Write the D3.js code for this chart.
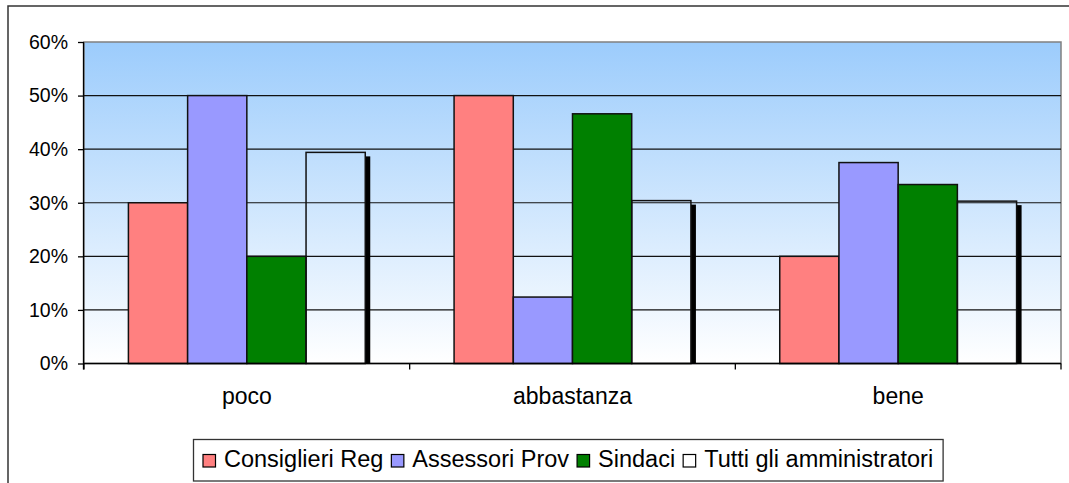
<!DOCTYPE html>
<html>
<head>
<meta charset="utf-8">
<script src="https://cdn.jsdelivr.net/npm/d3@7"></script>
<style>
  body { margin: 0; background: #fff; }
  svg text { font-family: "Liberation Sans", Arial, sans-serif; fill: #000; }
</style>
</head>
<body>
<div id="visualContainer"></div>
<script>
// chart data
var categories = ["poco", "abbastanza", "bene"];
var seriesNames = ["Consiglieri Reg", "Assessori Prov", "Sindaci", "Tutti gli amministratori"];
var consiglieriReg = [0.30, 0.50, 0.20];
var assessoriProv = [0.50, 0.124, 0.375];
var sindaci = [0.20, 0.466, 0.334];
var tutti = [0.394, 0.304, 0.303];
var yTicks = [0, 0.1, 0.2, 0.3, 0.4, 0.5, 0.6];

var seriesValues = [consiglieriReg, assessoriProv, sindaci, tutti];
var seriesColors = ["#ff8080", "#9999ff", "#008000", "none"];

var W = 1069, H = 483;
var plot = {left: 84, right: 1061, top: 42, bottom: 363.5};

var svgCanvas = d3.select("#visualContainer")
  .append("svg")
  .attr("width", W)
  .attr("height", H);

// gradient for plot area
var grad = svgCanvas.append("defs").append("linearGradient")
  .attr("id", "bg").attr("x1", 0).attr("y1", 0).attr("x2", 0).attr("y2", 1);
grad.append("stop").attr("offset", "0%").attr("stop-color", "#9cccfc");
grad.append("stop").attr("offset", "100%").attr("stop-color", "#ffffff");

// outer chart border
svgCanvas.append("rect")
  .attr("x", 8).attr("y", 6)
  .attr("width", 1090).attr("height", 500)
  .attr("fill", "none")
  .attr("stroke", "#333")
  .attr("stroke-width", 1.5);

var x0 = d3.scaleBand().domain(categories).range([plot.left, plot.right]);
var x1 = d3.scaleBand().domain(seriesNames).range([0, x0.bandwidth()])
  .paddingInner(0).paddingOuter(0.75);
var y = d3.scaleLinear().domain([0, 0.6]).range([plot.bottom, plot.top]);

// plot background
svgCanvas.append("rect")
  .attr("x", plot.left).attr("y", plot.top)
  .attr("width", plot.right - plot.left).attr("height", plot.bottom - plot.top)
  .attr("fill", "url(#bg)")
  .attr("stroke", "#808080")
  .attr("stroke-width", 1.5);

// gridlines
svgCanvas.append("g").selectAll("line")
  .data(yTicks.filter(function(t){ return t > 0 && t < 0.6; }))
  .enter().append("line")
    .attr("x1", plot.left).attr("x2", plot.right)
    .attr("y1", function(d){ return y(d); })
    .attr("y2", function(d){ return y(d); })
    .attr("stroke", "#111")
    .attr("stroke-width", 1.2);

// y axis
var yAxis = d3.axisLeft(y).tickValues(yTicks)
  .tickFormat(d3.format(".0%")).tickSize(6).tickPadding(10);
var gy = svgCanvas.append("g")
  .attr("transform", "translate(" + plot.left + ",0)")
  .call(yAxis);
gy.select(".domain").attr("stroke", "#000").attr("stroke-width", 1.3)
  .attr("d", "M-0.5," + plot.top + "V" + (plot.bottom + 6));
gy.selectAll(".tick line").attr("stroke", "#000").attr("stroke-width", 1.3);
gy.selectAll(".tick text").style("font-size", "19.5px")
  .style("font-family", "'Liberation Sans', Arial, sans-serif").attr("fill", "#000");

// bars
var bars = [];
seriesValues.forEach(function(vals, s) {
  vals.forEach(function(v, c) {
    bars.push({series: seriesNames[s], cat: categories[c], value: v, color: seriesColors[s], idx: s});
  });
});

// shadow strip on the last series
svgCanvas.append("g").selectAll("rect")
  .data(bars.filter(function(d){ return d.idx === 3; }))
  .enter().append("rect")
    .attr("x", function(d){ return x0(d.cat) + x1(d.series) + x1.bandwidth(); })
    .attr("y", function(d){ return y(d.value) + 4; })
    .attr("width", 5)
    .attr("height", function(d){ return plot.bottom - y(d.value) - 4; })
    .attr("fill", "#000");

svgCanvas.append("g").selectAll("rect")
  .data(bars)
  .enter().append("rect")
    .attr("x", function(d){ return x0(d.cat) + x1(d.series); })
    .attr("y", function(d){ return y(d.value); })
    .attr("width", x1.bandwidth())
    .attr("height", function(d){ return plot.bottom - y(d.value); })
    .attr("fill", function(d){ return d.color; })
    .attr("stroke", "#111")
    .attr("stroke-width", 1.5);

// x axis
var xAxis = d3.axisBottom(x0).tickSize(0).tickPadding(24);
var gx = svgCanvas.append("g")
  .attr("transform", "translate(0," + plot.bottom + ")")
  .call(xAxis);
gx.select(".domain").attr("stroke", "#000").attr("stroke-width", 1.5)
  .attr("d", "M" + plot.left + ",0H" + plot.right);
gx.selectAll(".tick text").style("font-size", "23px")
  .style("font-family", "'Liberation Sans', Arial, sans-serif").attr("fill", "#000");
// category separators
gx.append("g").selectAll("line")
  .data(categories.concat(["end"]))
  .enter().append("line")
    .attr("x1", function(d, i){ return i < categories.length ? x0(d) : plot.right; })
    .attr("x2", function(d, i){ return i < categories.length ? x0(d) : plot.right; })
    .attr("y1", 0).attr("y2", 6)
    .attr("stroke", "#000").attr("stroke-width", 1.3);

// legend
var legend = svgCanvas.append("g");
var legendBox = legend.append("rect")
  .attr("y", 439.5).attr("height", 41.5)
  .attr("fill", "#fff").attr("stroke", "#333").attr("stroke-width", 1.3);
var lx = 203;
var lastEnd = lx;
seriesNames.forEach(function(name, i) {
  legend.append("rect")
    .attr("x", lx).attr("y", 454.5)
    .attr("width", 12.5).attr("height", 12.5)
    .attr("fill", seriesColors[i] === "none" ? "#fff" : seriesColors[i])
    .attr("stroke", "#000").attr("stroke-width", 1.2);
  var t = legend.append("text")
    .attr("x", lx + 21).attr("y", 467)
    .style("font-size", "23.5px")
    .text(name);
  lastEnd = lx + 21 + t.node().getComputedTextLength();
  lx = lastEnd + 8;
});
legendBox.attr("x", 193.5).attr("width", lastEnd + 10 - 193.5);
</script>
</body>
</html>
